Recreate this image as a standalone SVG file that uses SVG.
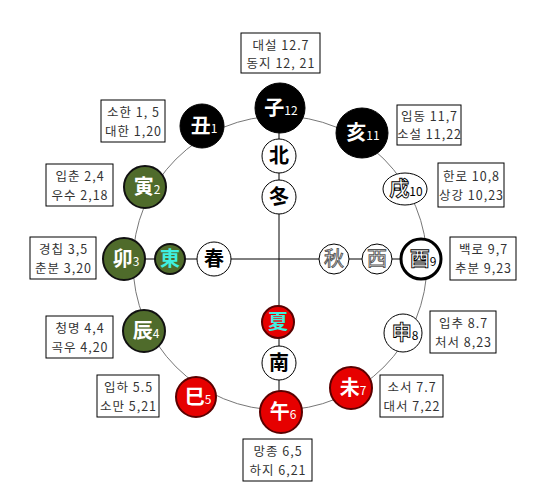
<svg xmlns="http://www.w3.org/2000/svg" width="550" height="496" viewBox="0 0 550 496">
<style>
.box{fill:#fff;stroke:#000;stroke-width:1}
.lbl{font-family:"Noto Sans CJK KR","Noto Sans CJK SC",sans-serif;font-size:12.5px;fill:#333;text-anchor:middle;letter-spacing:1px}
.nd{font-family:"Noto Sans CJK KR","Noto Sans CJK SC",sans-serif;font-size:20px;text-anchor:middle;font-weight:bold}
.sub{font-size:12px;font-weight:normal}
.blk{fill:#000;stroke:#000;stroke-width:1}
.grn{fill:#4f6b2b;stroke:#111;stroke-width:2}
.red{fill:#e60000;stroke:#5a0000;stroke-width:2}
.wht{fill:#fff;stroke:#000;stroke-width:1}
.whtb{fill:#fff;stroke:#000;stroke-width:3}
.tw{fill:#fff}
.tk{fill:#000}
.tc{fill:#3ff0e0}
.th{fill:#fff;stroke:#000;stroke-width:0.9}
.tg{fill:#fff;stroke:#555;stroke-width:0.9;font-weight:normal}
</style>
<g id="connectors" fill="none">
<circle cx="280" cy="263" r="147" stroke="#777" stroke-width="1"/>
<line x1="279" y1="130" x2="279" y2="392" stroke="#000" stroke-width="1"/>
<line x1="144" y1="259" x2="401" y2="259" stroke="#000" stroke-width="1"/>
</g>
<g id="labels">
<g id="lbl-12"><rect class="box" x="241" y="33" width="79" height="40"/><text class="lbl" x="281" y="50">대설 12.7</text><text class="lbl" x="281" y="68">동지 12, 21</text></g>
<g id="lbl-1"><rect class="box" x="101" y="100" width="64" height="42"/><text class="lbl" x="133.5" y="117">소한 1, 5</text><text class="lbl" x="133.5" y="136">대한 1,20</text></g>
<g id="lbl-11"><rect class="box" x="397" y="105" width="64" height="40"/><text class="lbl" x="429.5" y="121">입동 11,7</text><text class="lbl" x="429.5" y="139">소설 11,22</text></g>
<g id="lbl-2"><rect class="box" x="46" y="164" width="67" height="42"/><text class="lbl" x="80" y="181">입춘 2,4</text><text class="lbl" x="80" y="200">우수 2,18</text></g>
<g id="lbl-10"><rect class="box" x="438" y="163" width="66" height="44"/><text class="lbl" x="471.5" y="181">한로 10,8</text><text class="lbl" x="471.5" y="200">상강 10,23</text></g>
<g id="lbl-3"><rect class="box" x="30" y="237" width="66" height="42"/><text class="lbl" x="63.5" y="254">경칩 3,5</text><text class="lbl" x="63.5" y="273">춘분 3,20</text></g>
<g id="lbl-9"><rect class="box" x="450" y="237" width="66" height="43"/><text class="lbl" x="483.5" y="254">백로 9,7</text><text class="lbl" x="483.5" y="273">추분 9,23</text></g>
<g id="lbl-4"><rect class="box" x="46" y="316" width="67" height="42"/><text class="lbl" x="80" y="333">청명 4,4</text><text class="lbl" x="80" y="352">곡우 4,20</text></g>
<g id="lbl-8"><rect class="box" x="430" y="311" width="66" height="42"/><text class="lbl" x="463.5" y="328">입추 8.7</text><text class="lbl" x="463.5" y="347">처서 8,23</text></g>
<g id="lbl-5"><rect class="box" x="97" y="375" width="62" height="42"/><text class="lbl" x="128.5" y="392">입하 5.5</text><text class="lbl" x="128.5" y="411">소만 5,21</text></g>
<g id="lbl-7"><rect class="box" x="380" y="375" width="63" height="42"/><text class="lbl" x="412" y="392">소서 7.7</text><text class="lbl" x="412" y="411">대서 7,22</text></g>
<g id="lbl-6"><rect class="box" x="243" y="439" width="69" height="42"/><text class="lbl" x="278" y="456">망종 6,5</text><text class="lbl" x="278" y="475">하지 6,21</text></g>
</g>
<g id="nodes">
<g id="n-ja"><circle class="blk" cx="280" cy="108" r="25"/><text class="nd tw" x="281" y="115">子<tspan class="sub">12</tspan></text></g>
<g id="n-chuk"><circle class="blk" cx="202" cy="126" r="22"/><text class="nd tw" x="204" y="133">丑<tspan class="sub">1</tspan></text></g>
<g id="n-hae"><ellipse class="blk" cx="362" cy="133" rx="26" ry="25"/><text class="nd tw" x="363" y="140">亥<tspan class="sub">11</tspan></text></g>
<g id="n-in"><circle class="grn" cx="145" cy="187" r="21"/><text class="nd tw" x="147" y="194">寅<tspan class="sub">2</tspan></text></g>
<g id="n-sul"><ellipse class="wht" cx="405" cy="189" rx="22" ry="16" stroke-width="2.5"/><text class="nd th" x="406" y="196">戌<tspan class="sub tk" stroke="none" font-weight="bold">10</tspan></text></g>
<g id="n-myo"><circle class="grn" cx="124" cy="259" r="21" stroke-width="3"/><text class="nd tw" x="126" y="266">卯<tspan class="sub">3</tspan></text></g>
<g id="n-dong"><circle class="grn" cx="170" cy="259" r="15" stroke="#333" stroke-width="1"/><text class="nd tc" x="170" y="266" font-size="18">東</text></g>
<g id="n-chun"><circle class="wht" cx="214" cy="259" r="17"/><text class="nd tk" x="214" y="266">春</text></g>
<g id="n-buk"><circle class="wht" cx="279" cy="156" r="17"/><text class="nd tk" x="279" y="163">北</text></g>
<g id="n-dong2"><circle class="wht" cx="279" cy="197" r="17"/><text class="nd tk" x="279" y="204">冬</text></g>
<g id="n-chu"><circle class="wht" cx="334" cy="259" r="15"/><text class="nd tg" x="334" y="266">秋</text></g>
<g id="n-seo"><circle class="wht" cx="377" cy="259" r="15"/><text class="nd tg" x="377" y="266">西</text></g>
<g id="n-yu"><circle class="whtb" cx="421" cy="259" r="20"/><text class="nd th" x="423" y="266">酉<tspan class="sub tk" stroke="none" font-weight="bold">9</tspan></text></g>
<g id="n-jin"><circle class="grn" cx="144" cy="331" r="21"/><text class="nd tw" x="146" y="338">辰<tspan class="sub">4</tspan></text></g>
<g id="n-sin"><circle class="wht" cx="403" cy="333" r="19" stroke-width="2.5"/><text class="nd th" x="405" y="340">申<tspan class="sub tk" stroke="none" font-weight="bold">8</tspan></text></g>
<g id="n-ha"><circle class="red" cx="278" cy="322" r="16" stroke-width="1.5"/><text class="nd tc" x="278" y="329" font-size="18">夏</text></g>
<g id="n-nam"><circle class="wht" cx="279" cy="363" r="17"/><text class="nd tk" x="279" y="370">南</text></g>
<g id="n-sa"><circle class="red" cx="196" cy="397" r="20"/><text class="nd tw" x="198" y="404">巳<tspan class="sub">5</tspan></text></g>
<g id="n-mi"><circle class="red" cx="351" cy="388" r="21"/><text class="nd tw" x="353" y="395">未<tspan class="sub">7</tspan></text></g>
<g id="n-o"><circle class="red" cx="281" cy="412" r="21"/><text class="nd tw" x="283" y="419">午<tspan class="sub">6</tspan></text></g>
</g>
</svg>
